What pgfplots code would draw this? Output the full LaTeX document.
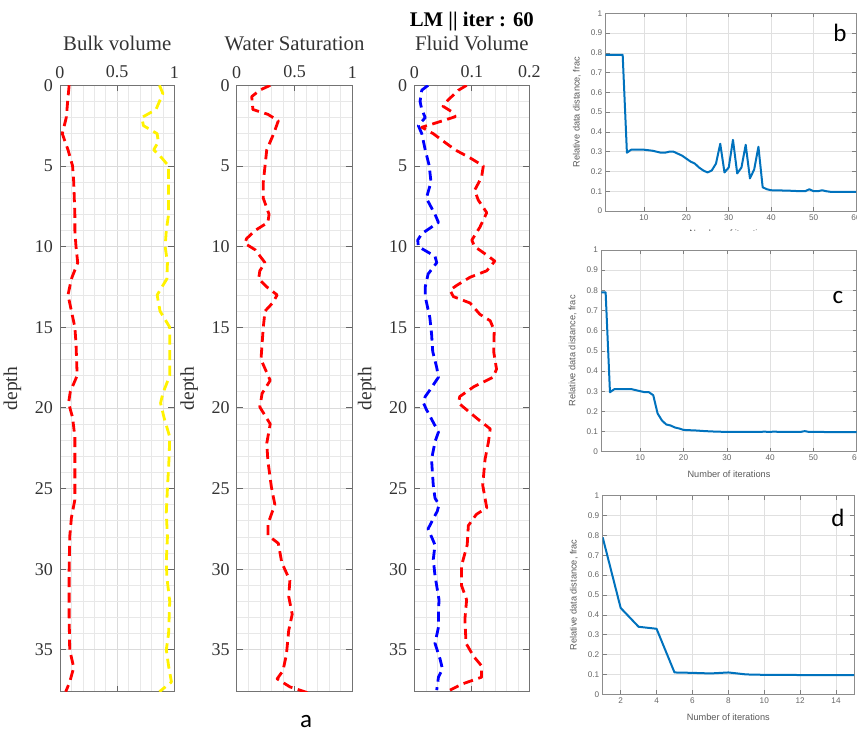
\documentclass[border=0pt]{standalone}
\usepackage{fontspec}
\setmainfont{Liberation Serif}
\newfontfamily\arial{Liberation Sans}
\newfontfamily\calib{Carlito}
\usepackage{pgfplots}
\pgfplotsset{compat=1.18}
\definecolor{mblue}{RGB}{0,114,189}
\pgfplotsset{
 welllog/.style={
  scale only axis, height=303.2pt,
  y dir=reverse, ymin=0, ymax=37.6,
  ytick={0,5,10,15,20,25,30,35},
  minor y tick num=4, minor x tick num=4,
  xticklabel pos=upper,
  grid=both,
  major grid style={black!14, line width=0.35pt},
  minor grid style={black!9, line width=0.3pt},
  axis line style={black!55, line width=0.5pt},
  tick style={black!60, line width=0.4pt},
  major tick length=3pt, minor tick length=0pt,
  tick align=inside,
  /pgf/number format/assume math mode=true,
  ticklabel style={font=\fontsize{9}{10}\selectfont, text=black!80},
  ylabel={depth},
  ylabel style={font=\fontsize{9.75}{11}\selectfont, text=black!80},
 },
 logline/.style={line width=1.4pt, dash pattern=on 5pt off 2.8pt, line join=round},
 conv/.style={
  scale only axis, xmin=1, ymin=0, ymax=1,
  ytick={0,0.1,0.2,0.3,0.4,0.5,0.6,0.7,0.8,0.9,1},
  grid=major, major grid style={black!12, line width=0.3pt},
  axis line style={black!45, line width=0.4pt},
  tick style={black!50, line width=0.3pt},
  major tick length=2pt, tick align=inside,
  /pgf/number format/assume math mode=true,
  ticklabel style={font=\arial\fontsize{4.1}{4.5}\selectfont, text=black!60, inner sep=1.5pt},
  label style={font=\arial\fontsize{4.6}{5}\selectfont, text=black!65},
  xlabel={Number of iterations}, ylabel={Relative data distance, frac},
 },
 convline/.style={mblue, line width=1pt, line join=round, no marks},
}
\begin{document}
\begin{tikzpicture}
% ---------- panel a ----------
\begin{axis}[welllog, at={(30pt,-42.65pt)}, anchor=north west, width=57.15pt,
  xmin=0, xmax=1, xtick={0,0.5,1}]
\addplot[logline, red] coordinates {(0.08,0) (0.067,1) (0.055,2) (0.02,3) (0.07,4) (0.11,5) (0.12,6) (0.125,7) (0.13,8) (0.13,9) (0.14,10) (0.155,11) (0.10,12) (0.07,13) (0.10,14) (0.13,15) (0.14,16) (0.145,17) (0.15,18) (0.09,19) (0.075,19.7) (0.11,20.6) (0.13,21.8) (0.13,23) (0.13,25) (0.13,25.7) (0.10,26.8) (0.085,28) (0.08,30) (0.08,33) (0.085,35) (0.12,36.1) (0.085,37) (0.05,37.6)};
\addplot[logline, yellow] coordinates {(0.87,0) (0.90,0.5) (0.84,1.5) (0.715,2) (0.73,2.5) (0.85,3) (0.86,3.5) (0.82,4) (0.89,4.5) (0.95,5) (0.95,8) (0.93,9) (0.92,10) (0.94,11) (0.935,12) (0.85,13) (0.875,14) (0.96,15) (0.96,18) (0.90,19.1) (0.88,19.7) (0.91,20.6) (0.96,21.8) (0.955,23) (0.94,25) (0.93,26.5) (0.94,28) (0.93,29.5) (0.935,30.5) (0.96,32) (0.95,34) (0.93,35) (0.95,36) (0.975,37) (0.87,37.6)};
\end{axis}
\begin{axis}[welllog, at={(118.35pt,-42.65pt)}, anchor=north west, width=57.8pt,
  xmin=0, xmax=1, xtick={0,0.5,1}]
\addplot[logline, red] coordinates {(0.29,0) (0.20,0.3) (0.13,0.7) (0.14,1.5) (0.27,1.8) (0.36,2.2) (0.32,3) (0.26,4) (0.245,5) (0.23,6) (0.23,7) (0.28,8) (0.27,8.5) (0.16,9) (0.086,9.5) (0.07,9.8) (0.16,10.2) (0.245,11) (0.20,11.5) (0.19,12) (0.26,12.5) (0.35,13) (0.31,13.5) (0.245,14) (0.23,15) (0.22,16) (0.21,17) (0.29,18.3) (0.22,19.1) (0.20,19.95) (0.29,21) (0.26,22.2) (0.27,23.3) (0.30,24.9) (0.33,26) (0.27,27.2) (0.27,27.9) (0.36,28.4) (0.39,29.6) (0.46,30.7) (0.45,31.7) (0.48,32.8) (0.45,33.8) (0.43,35.3) (0.40,36.3) (0.35,36.8) (0.46,37.3) (0.63,37.7)};
\end{axis}
\begin{axis}[welllog, at={(207.15pt,-42.65pt)}, anchor=north west, width=57.5pt,
  xmin=0, xmax=0.2, xtick={0,0.1,0.2}]
\addplot[logline, blue] coordinates {(0.024,0) (0.013,0.3) (0.010,1) (0.013,1.5) (0.019,2) (0.007,2.5) (0.013,3) (0.019,4) (0.026,5) (0.029,6) (0.021,7) (0.036,8) (0.042,8.5) (0.013,9.2) (0.006,9.6) (0.007,10) (0.036,10.6) (0.039,11) (0.024,11.7) (0.019,12.5) (0.019,13.1) (0.027,14.4) (0.030,15.4) (0.032,16.5) (0.039,17.5) (0.042,18.1) (0.027,18.9) (0.019,19.3) (0.016,19.7) (0.021,20.1) (0.030,20.7) (0.042,21.5) (0.036,22.1) (0.030,23.2) (0.033,24.8) (0.036,25.6) (0.043,26) (0.040,26.4) (0.024,27.5) (0.036,28.5) (0.033,29.4) (0.036,30.4) (0.043,31.9) (0.042,32.7) (0.042,33.6) (0.036,34.6) (0.045,35.6) (0.049,36.2) (0.042,36.7) (0.039,37.5)};
\addplot[logline, red] coordinates {(0.091,0) (0.077,0.3) (0.059,0.9) (0.050,1.3) (0.068,1.7) (0.071,1.95) (0.036,2.35) (0.013,2.6) (0.033,3) (0.048,3.4) (0.071,4) (0.097,4.5) (0.12,5) (0.117,5.7) (0.105,6.5) (0.111,7.1) (0.126,7.9) (0.114,8.8) (0.10,9.6) (0.105,10) (0.129,10.6) (0.140,10.9) (0.126,11.5) (0.097,11.9) (0.074,12.4) (0.062,12.7) (0.068,13.1) (0.097,13.5) (0.114,14.2) (0.132,14.6) (0.139,15.2) (0.138,16.5) (0.143,17.6) (0.137,18.1) (0.103,18.7) (0.079,19.3) (0.077,19.7) (0.097,20.3) (0.114,20.8) (0.132,21.3) (0.129,22.1) (0.123,23.2) (0.119,24.8) (0.123,25.6) (0.126,26.2) (0.108,26.6) (0.094,27.3) (0.092,28.5) (0.082,29.8) (0.082,31) (0.091,31.9) (0.088,33.1) (0.090,34.6) (0.103,35.4) (0.117,36) (0.117,36.7) (0.085,37.1) (0.062,37.5)};
\end{axis}
\node[font=\fontsize{10.4}{12}\selectfont, text=black!80, anchor=base] at (58.6pt,-25.35pt) {Bulk volume};
\node[font=\fontsize{10.4}{12}\selectfont, text=black!80, anchor=base] at (147.25pt,-25.35pt) {Water Saturation};
\node[font=\fontsize{10.4}{12}\selectfont, text=black!80, anchor=base] at (235.9pt,-25.35pt) {Fluid Volume};
\node[font=\bfseries\fontsize{10.4}{12}\selectfont, anchor=base] at (235.9pt,-13.35pt) {LM || iter : 60};
\node[font=\calib\fontsize{12.5}{14}\selectfont, anchor=base] at (153pt,-363.8pt) {a};
% ---------- panel b ----------
\begin{axis}[conv, at={(302.85pt,-6.65pt)}, anchor=north west, width=125.15pt, height=98.85pt,
  xmax=60, xtick={10,20,30,40,50,60}]
\addplot[convline] coordinates {(1,0.79) (5,0.79) (6,0.295) (7,0.31) (10,0.31) (12,0.305) (13,0.30) (14,0.295) (15,0.295) (16,0.30) (17,0.30) (18,0.29) (19,0.28) (20,0.265) (21,0.25) (22,0.24) (23,0.22) (24,0.205) (25,0.195) (26,0.205) (27,0.24) (28,0.34) (29,0.195) (30,0.22) (31,0.36) (32,0.19) (33,0.22) (34,0.335) (35,0.165) (36,0.21) (37,0.325) (38,0.12) (39,0.11) (40,0.105) (42,0.104) (44,0.103) (46,0.101) (48,0.10) (49,0.11) (50,0.10) (51,0.10) (52,0.105) (53,0.10) (54,0.097) (60,0.097)};
\end{axis}
\fill[white] (280pt,-115.3pt) rectangle (428.5pt,-120pt);
\node[font=\calib\fontsize{12.5}{14}\selectfont, anchor=base] at (420pt,-20.85pt) {b};
% ---------- panel c ----------
\begin{axis}[conv, at={(300.65pt,-125pt)}, anchor=north west, width=127.7pt, height=100.85pt,
  xmax=60, xtick={10,20,30,40,50,60}]
\addplot[convline] coordinates {(1,0.79) (2,0.79) (3,0.295) (4,0.31) (5,0.31) (8,0.31) (9,0.305) (10,0.30) (11,0.295) (12,0.295) (13,0.28) (14,0.19) (15,0.155) (16,0.135) (17,0.13) (18,0.12) (19,0.115) (20,0.108) (21,0.107) (22,0.106) (23,0.105) (25,0.102) (27,0.10) (30,0.098) (39,0.099) (40,0.098) (41,0.10) (42,0.098) (47,0.098) (48,0.102) (49,0.098) (60,0.097)};
\end{axis}
\node[font=\calib\fontsize{12.5}{14}\selectfont, anchor=base] at (419pt,-151.65pt) {c};
% ---------- panel d ----------
\begin{axis}[conv, at={(301.35pt,-247.85pt)}, anchor=north west, width=125.65pt, height=99.3pt,
  xmax=15, xtick={2,4,6,8,10,12,14}]
\addplot[convline] coordinates {(1,0.79) (2,0.435) (3,0.34) (4,0.33) (5,0.11) (6,0.108) (7,0.105) (8,0.11) (9,0.10) (10,0.098) (11,0.098) (12,0.097) (13,0.097) (14,0.096) (15,0.096)};
\end{axis}
\node[font=\calib\fontsize{12.5}{14}\selectfont, anchor=base] at (419pt,-263.35pt) {d};
\pgfresetboundingbox
\useasboundingbox (0pt,0pt) rectangle (428.5pt,-366.5pt);
\end{tikzpicture}
\end{document}
